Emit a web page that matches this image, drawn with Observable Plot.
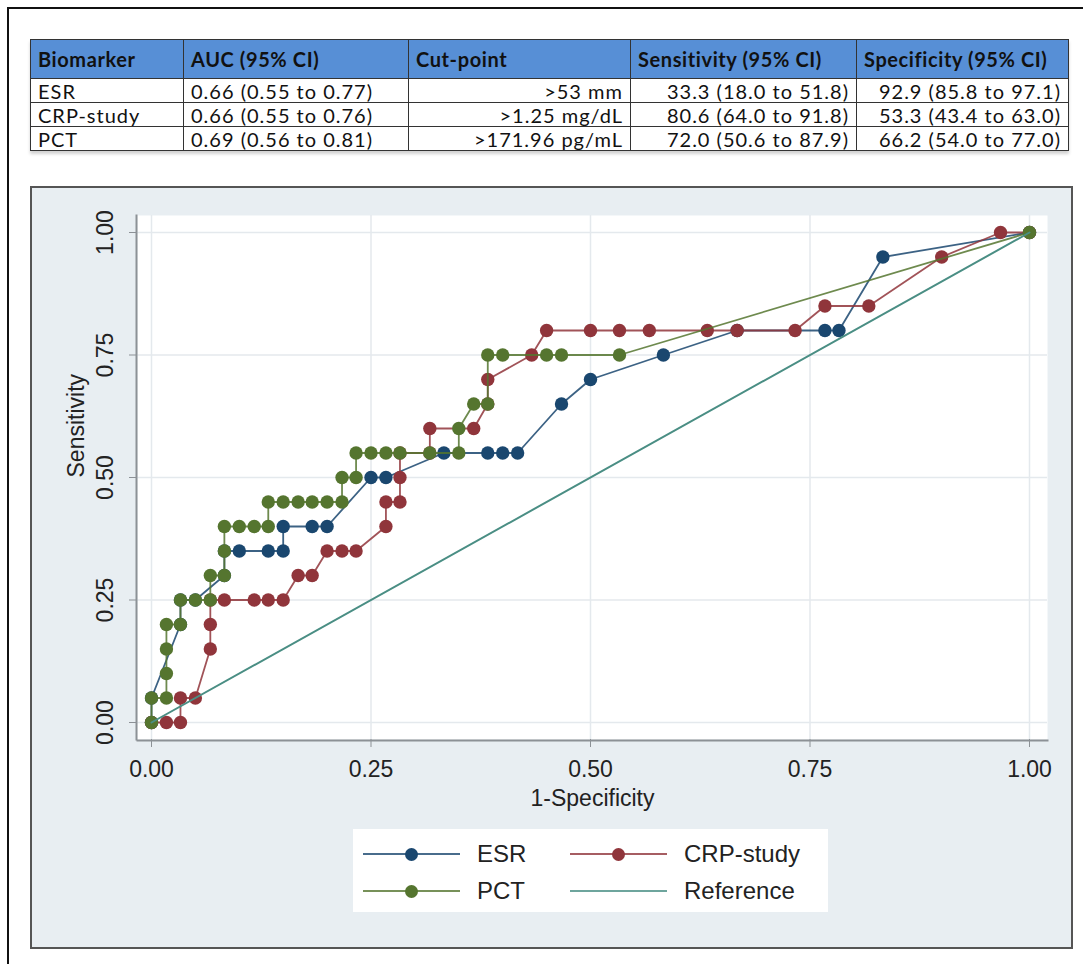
<!DOCTYPE html>
<html>
<head>
<meta charset="utf-8">
<script src="https://cdn.jsdelivr.net/npm/d3@7"></script>
<script src="https://cdn.jsdelivr.net/npm/@observablehq/plot@0.6"></script>
<style>
  html, body { margin: 0; padding: 0; background: #fff; overflow: hidden; width: 1083px; height: 964px; }
  #outer { position: absolute; left: 7px; top: 7px; width: 1100px; height: 1000px; border: 2px solid #111; box-sizing: border-box; }
  #tbl { position: absolute; left: 30px; top: 39px; border-collapse: collapse; font-family: Lato, "Open Sans", sans-serif; font-size: 20px; letter-spacing: 1px; color: #111; box-shadow: 0 3px 3px rgba(0,0,0,0.18); }
  #tbl th, #tbl td { border: 1px solid #333; padding: 0 7px; white-space: nowrap; line-height: 1; }
  #tbl th { background: #578fd6; font-weight: bold; text-align: left; height: 38px; letter-spacing: 0.6px; }
  #tbl td { height: 23px; background: #fff; }
  #tbl td.r { text-align: right; }
  #panel { position: absolute; left: 30px; top: 186px; width: 1043px; height: 763px; box-sizing: border-box; border: 2px solid #555; background: #e8eef2; }
  #plot { position: absolute; left: 0; top: 0; }
  #legend { position: absolute; left: 321px; top: 641px; width: 475px; height: 83px; background: #fff; font-family: "Liberation Sans", Arial, sans-serif; font-size: 24px; color: #222; }
  .item { position: absolute; height: 30px; width: 250px; }
  .sw { position: absolute; top: 14px; width: 97px; height: 2px; }
  .mk { position: absolute; top: 9px; width: 13px; height: 13px; border-radius: 50%; }
  .lb { position: absolute; top: 1px; left: 114px; line-height: 28px; white-space: nowrap; }
</style>
</head>
<body>
<div id="outer"></div>
<table id="tbl"></table>
<div id="panel"><div id="plot"></div><div id="legend"></div></div>
<script>
// ---- table data ----
const tableHeaders = ["Biomarker", "AUC (95% CI)", "Cut-point", "Sensitivity (95% CI)", "Specificity (95% CI)"];
const biomarkers = ["ESR", "CRP-study", "PCT"];
const aucCI = ["0.66 (0.55 to 0.77)", "0.66 (0.55 to 0.76)", "0.69 (0.56 to 0.81)"];
const cutPoints = [">53 mm", ">1.25 mg/dL", ">171.96 pg/mL"];
const sensCI = ["33.3 (18.0 to 51.8)", "80.6 (64.0 to 91.8)", "72.0 (50.6 to 87.9)"];
const specCI = ["92.9 (85.8 to 97.1)", "53.3 (43.4 to 63.0)", "66.2 (54.0 to 77.0)"];
const colWidths = [138, 210, 207, 211, 197];

// ---- ROC data ----
const esrX = [0, 0, .033, .033, .05, .083, .083, .1, .133, .15, .15, .183, .2, .25, .267, .333, .383, .4, .417, .467, .5, .583, .667, .767, .783, .833, 1];
const esrY = [0, .05, .2, .25, .25, .3, .35, .35, .35, .35, .4, .4, .4, .5, .5, .55, .55, .55, .55, .65, .7, .75, .8, .8, .8, .95, 1];

const crpX = [0, .017, .033, .033, .05, .067, .067, .067, .083, .117, .133, .15, .167, .183, .2, .217, .233, .267, .267, .283, .283, .283, .317, .317, .367, .383, .383, .433, .45, .5, .533, .567, .633, .667, .733, .767, .817, .9, .967, 1];
const crpY = [0, 0, 0, .05, .05, .15, .2, .25, .25, .25, .25, .25, .3, .3, .35, .35, .35, .4, .45, .45, .5, .55, .55, .6, .6, .65, .7, .75, .8, .8, .8, .8, .8, .8, .8, .85, .85, .95, 1, 1];

const pctX = [0, 0, .017, .017, .017, .017, .033, .033, .05, .067, .067, .083, .083, .083, .1, .117, .133, .133, .15, .167, .183, .2, .217, .217, .233, .233, .25, .267, .283, .317, .35, .35, .367, .383, .383, .4, .45, .467, .533, 1];
const pctY = [0, .05, .05, .1, .15, .2, .2, .25, .25, .25, .3, .3, .35, .4, .4, .4, .4, .45, .45, .45, .45, .45, .45, .5, .5, .55, .55, .55, .55, .55, .55, .6, .65, .65, .75, .75, .75, .75, .75, 1];

const refX = [0, 1];
const refY = [0, 1];

const seriesNames = ["ESR", "CRP-study", "PCT", "Reference"];
const seriesColors = ["#1a476f", "#90353b", "#55752f", "#4a8e84"];

const xTicks = [0, 0.25, 0.5, 0.75, 1];
const yTicks = [0, 0.25, 0.5, 0.75, 1];
const xTitle = "1-Specificity";
const yTitle = "Sensitivity";

// ---- build table ----
const esc = s => s.replace(/&/g,"&amp;").replace(/</g,"&lt;").replace(/>/g,"&gt;");
const tbl = document.getElementById("tbl");
let html = "<tr>" + tableHeaders.map((h, i) => `<th style="width:${colWidths[i]}px">${esc(h)}</th>`).join("") + "</tr>";
biomarkers.forEach((b, i) => {
  html += `<tr><td>${esc(b)}</td><td>${esc(aucCI[i])}</td><td class="r">${esc(cutPoints[i])}</td><td class="r">${esc(sensCI[i])}</td><td class="r">${esc(specCI[i])}</td></tr>`;
});
tbl.innerHTML = html;

// ---- tidy rows ----
const toRows = (xs, ys, name) => xs.map((x, i) => ({x, y: ys[i], series: name}));
const esr = toRows(esrX, esrY, seriesNames[0]);
const crp = toRows(crpX, crpY, seriesNames[1]);
const pct = toRows(pctX, pctY, seriesNames[2]);
const ref = toRows(refX, refY, seriesNames[3]);

const axisColor = "#8c9196";
const gridColor = "#e4e9ed";
const fmt = d3.format(".2f");

const chart = Plot.plot({
  width: 1039,
  height: 630,
  marginLeft: 105,
  marginRight: 24,
  marginTop: 27,
  marginBottom: 79,
  x: {domain: [0, 1], insetLeft: 14, insetRight: 18},
  y: {domain: [0, 1], insetTop: 17, insetBottom: 17},
  style: {fontFamily: "'Liberation Sans', Arial, sans-serif", fontSize: "23px", color: "#222", background: "transparent", overflow: "visible"},
  marks: [
    Plot.frame({fill: "white", stroke: null}),
    Plot.ruleX(xTicks, {x: d => d, stroke: gridColor, strokeWidth: 1.5}),
    Plot.ruleY(yTicks, {y: d => d, stroke: gridColor, strokeWidth: 1.5}),
    Plot.frame({anchor: "left", stroke: axisColor, strokeWidth: 2, dx: -1}),
    Plot.frame({anchor: "bottom", stroke: axisColor, strokeWidth: 2, dy: 1}),
    Plot.axisY({ticks: yTicks, tickFormat: fmt, tickSize: 8, tickPadding: 17, tickRotate: -90, stroke: axisColor, fill: "#222", label: null}),
    Plot.axisX({ticks: xTicks, tickFormat: fmt, tickSize: 8, tickPadding: 13, stroke: axisColor, fill: "#222", label: null}),
    Plot.line(esr, {x: "x", y: "y", stroke: seriesColors[0], strokeWidth: 1.8, strokeOpacity: 0.85}),
    Plot.dot(esr, {x: "x", y: "y", r: 6.7, fill: seriesColors[0], stroke: null}),
    Plot.line(crp, {x: "x", y: "y", stroke: seriesColors[1], strokeWidth: 1.8, strokeOpacity: 0.85}),
    Plot.dot(crp, {x: "x", y: "y", r: 6.7, fill: seriesColors[1], stroke: null}),
    Plot.line(pct, {x: "x", y: "y", stroke: seriesColors[2], strokeWidth: 1.8, strokeOpacity: 0.85}),
    Plot.dot(pct, {x: "x", y: "y", r: 6.7, fill: seriesColors[2], stroke: null}),
    Plot.line(ref, {x: "x", y: "y", stroke: seriesColors[3], strokeWidth: 2}),
    Plot.text([yTitle], {frameAnchor: "left", dx: -61, rotate: -90, fill: "#222", fontSize: 23}),
    Plot.text([xTitle], {frameAnchor: "bottom", dy: 66, fill: "#222", fontSize: 23})
  ]
});
document.getElementById("plot").appendChild(chart);

// ---- legend ----
const legend = document.getElementById("legend");
const legendPos = [[10, 10], [217, 10], [10, 47], [217, 47]];
seriesNames.forEach((name, i) => {
  const it = document.createElement("div");
  it.className = "item";
  it.style.left = legendPos[i][0] + "px";
  it.style.top = legendPos[i][1] + "px";
  let inner = `<div class="sw" style="left:0;background:${seriesColors[i]};opacity:0.8"></div>`;
  if (i < 3) inner += `<div class="mk" style="left:42px;background:${seriesColors[i]}"></div>`;
  inner += `<div class="lb">${name}</div>`;
  it.innerHTML = inner;
  legend.appendChild(it);
});
</script>
</body>
</html>
